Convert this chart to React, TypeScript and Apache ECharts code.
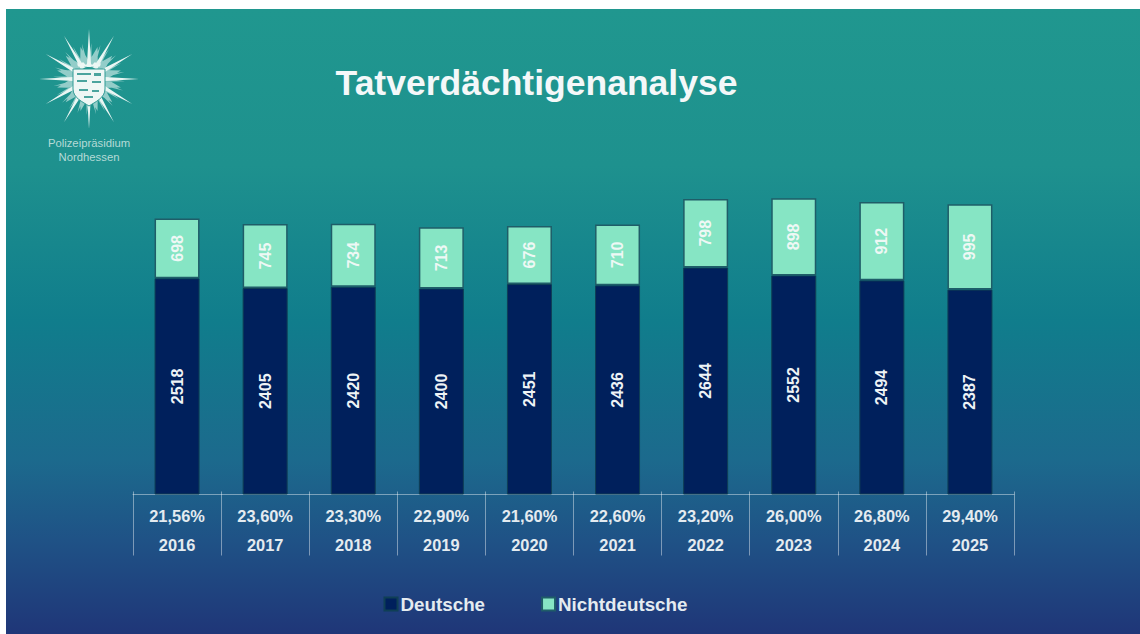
import React, { useEffect, useRef } from "react";
import * as echarts from "echarts";

const years = ["2016", "2017", "2018", "2019", "2020", "2021", "2022", "2023", "2024", "2025"];
const shares = ["21,56%", "23,60%", "23,30%", "22,90%", "21,60%", "22,60%", "23,20%", "26,00%", "26,80%", "29,40%"];
const deutsche = [2518, 2405, 2420, 2400, 2451, 2436, 2644, 2552, 2494, 2387];
const nichtdeutsche = [698, 745, 734, 713, 676, 710, 798, 898, 912, 995];

function ray(angle: number, r0: number, r1: number, w: number) {
  const c = Math.cos(angle), s = Math.sin(angle);
  const px = -s * w, py = c * w;
  const pt = (x: number, y: number) => `${x.toFixed(2)} ${y.toFixed(2)}`;
  return `M${pt(c * r0 + px, s * r0 + py)}L${pt(c * r1, s * r1)}L${pt(c * r0 - px, s * r0 - py)}Z`;
}
function longRays() {
  let d = "";
  for (let i = 0; i < 12; i++) d += ray((i * Math.PI) / 6 - Math.PI / 2, 12, 50, 2.2);
  return d;
}
function softRays() {
  let d = "";
  for (let i = 0; i < 12; i++) d += ray(((i + 0.5) * Math.PI) / 6 - Math.PI / 2, 12, 33, 6);
  for (let i = 0; i < 24; i++) d += ray(((i + 0.25) * Math.PI) / 12 - Math.PI / 2, 12, 36, 2);
  return d;
}
const shieldD = "M-16 -13L16 -13L16 7C16 16 6 20 0 24C-6 20 -16 16 -16 7Z";
const stripesD =
  "M-12 -9L2 -9L2 -7L-12 -7ZM5 -9L12 -9L12 -6L5 -6ZM-12 -2L-2 -2L-2 0L-12 0ZM3 -1L12 -1L12 1L3 1ZM-10 7L-1 7L-1 9L-10 9ZM3 8L10 8L10 10L3 10ZM-5 14L4 14L4 16L-5 16Z";
const crownD = "M-12 -19L-9 -17L-6 -20L-3 -17L0 -21L3 -17L6 -20L9 -17L12 -19L11 -15.5L-11 -15.5Z";

echarts.graphic.registerShape("polLong", echarts.graphic.extendPath(longRays(), {}));
echarts.graphic.registerShape("polSoft", echarts.graphic.extendPath(softRays(), {}));
echarts.graphic.registerShape("polShield", echarts.graphic.extendPath(shieldD, {}));
echarts.graphic.registerShape("polStripes", echarts.graphic.extendPath(stripesD, {}));
echarts.graphic.registerShape("polCrown", echarts.graphic.extendPath(crownD, {}));

const FONT = '"Liberation Sans", Arial, sans-serif';
const TEXT = "#e4ebf0";
const RULE = "rgba(255,255,255,0.42)";

export default function App() {
  const ref = useRef<HTMLDivElement>(null);
  useEffect(() => {
    const chart = echarts.init(ref.current!, null, { renderer: "svg" });
    chart.setOption({
      animation: false,
      backgroundColor: "#ffffff",
      textStyle: { fontFamily: FONT },
      graphic: [
        {
          type: "rect",
          z: -10,
          shape: { x: 6, y: 9, width: 1134, height: 625 },
          style: {
            fill: new echarts.graphic.LinearGradient(0, 0, 0, 1, [
              { offset: 0, color: "#20978f" },
              { offset: 0.25, color: "#1e918e" },
              { offset: 0.5, color: "#107d8c" },
              { offset: 0.72, color: "#1c6a8d" },
              { offset: 0.85, color: "#1f5286" },
              { offset: 1, color: "#1f3678" },
            ]),
          },
        },
        { type: "polSoft", x: 89, y: 79, z: -6, style: { fill: "rgba(225,243,240,0.6)" } },
        { type: "polLong", x: 89, y: 79, z: -5, style: { fill: "#e9f6f3" } },
        { type: "polShield", x: 89, y: 82, z: -4, style: { fill: "#eef7f5", stroke: "#2f9a94", lineWidth: 1 } },
        { type: "polStripes", x: 89, y: 82, z: -3, style: { fill: "#4aa49e" } },
        { type: "polCrown", x: 89, y: 82, z: -4, style: { fill: "#eef7f5" } },
        {
          type: "text",
          x: 89,
          y: 143,
          style: {
            text: "Polizeipräsidium",
            fill: "#b4dad6",
            font: `11.3px ${FONT}`,
            align: "center",
            verticalAlign: "middle",
          },
        },
        {
          type: "text",
          x: 89,
          y: 157,
          style: {
            text: "Nordhessen",
            fill: "#b4dad6",
            font: `11.3px ${FONT}`,
            align: "center",
            verticalAlign: "middle",
          },
        },
      ],
      title: {
        text: "Tatverdächtigenanalyse",
        left: 531.5,
        top: 60,
        textAlign: "center",
        textStyle: { color: "#f4f8f9", fontFamily: FONT, fontSize: 35.5, fontWeight: "bold" },
      },
      legend: {
        left: 378.5,
        top: 589.5,
        itemWidth: 13,
        itemHeight: 13,
        itemGap: 56,
        icon: "rect",
        textStyle: { color: TEXT, fontFamily: FONT, fontSize: 18.8, fontWeight: "bold", padding: [0, 0, 0, -2] },
        data: ["Deutsche", "Nichtdeutsche"],
      },
      grid: { left: 133, width: 881, top: 194, height: 300.5 },
      xAxis: [
        {
          type: "category",
          data: years,
          axisLine: { show: true, lineStyle: { color: RULE, width: 1 } },
          axisTick: { show: false },
          axisLabel: {
            margin: 7,
            color: TEXT,
            fontFamily: FONT,
            fontSize: 16.4,
            fontWeight: "bold",
            lineHeight: 29,
            formatter: (v: string, i: number) => `${shares[i]}\n${v}`,
          },
        },
        {
          type: "category",
          data: years,
          position: "bottom",
          offset: -3,
          axisLine: { show: false },
          axisLabel: { show: false },
          axisTick: { show: true, length: 64, lineStyle: { color: RULE, width: 1 } },
        },
      ],
      yAxis: { type: "value", min: 0, max: 3500, show: false },
      series: [
        {
          name: "Deutsche",
          type: "bar",
          stack: "t",
          barWidth: 45,
          data: deutsche,
          itemStyle: { color: "#00205c", borderColor: "#0f3f55", borderWidth: 1 },
          label: {
            show: true,
            position: "inside",
            rotate: 90,
            color: "#eef3f6",
            fontFamily: FONT,
            fontSize: 16,
            fontWeight: "bold",
          },
        },
        {
          name: "Nichtdeutsche",
          type: "bar",
          stack: "t",
          barWidth: 45,
          data: nichtdeutsche,
          itemStyle: { color: "#86e5c4", borderColor: "#1f5d68", borderWidth: 1.5 },
          label: {
            show: true,
            position: "inside",
            rotate: 90,
            color: "#eef8f5",
            fontFamily: FONT,
            fontSize: 16,
            fontWeight: "bold",
          },
        },
      ],
    });
    return () => chart.dispose();
  }, []);
  return <div ref={ref} style={{ position: "absolute", left: 0, top: 0, width: 1140, height: 634 }} />;
}
